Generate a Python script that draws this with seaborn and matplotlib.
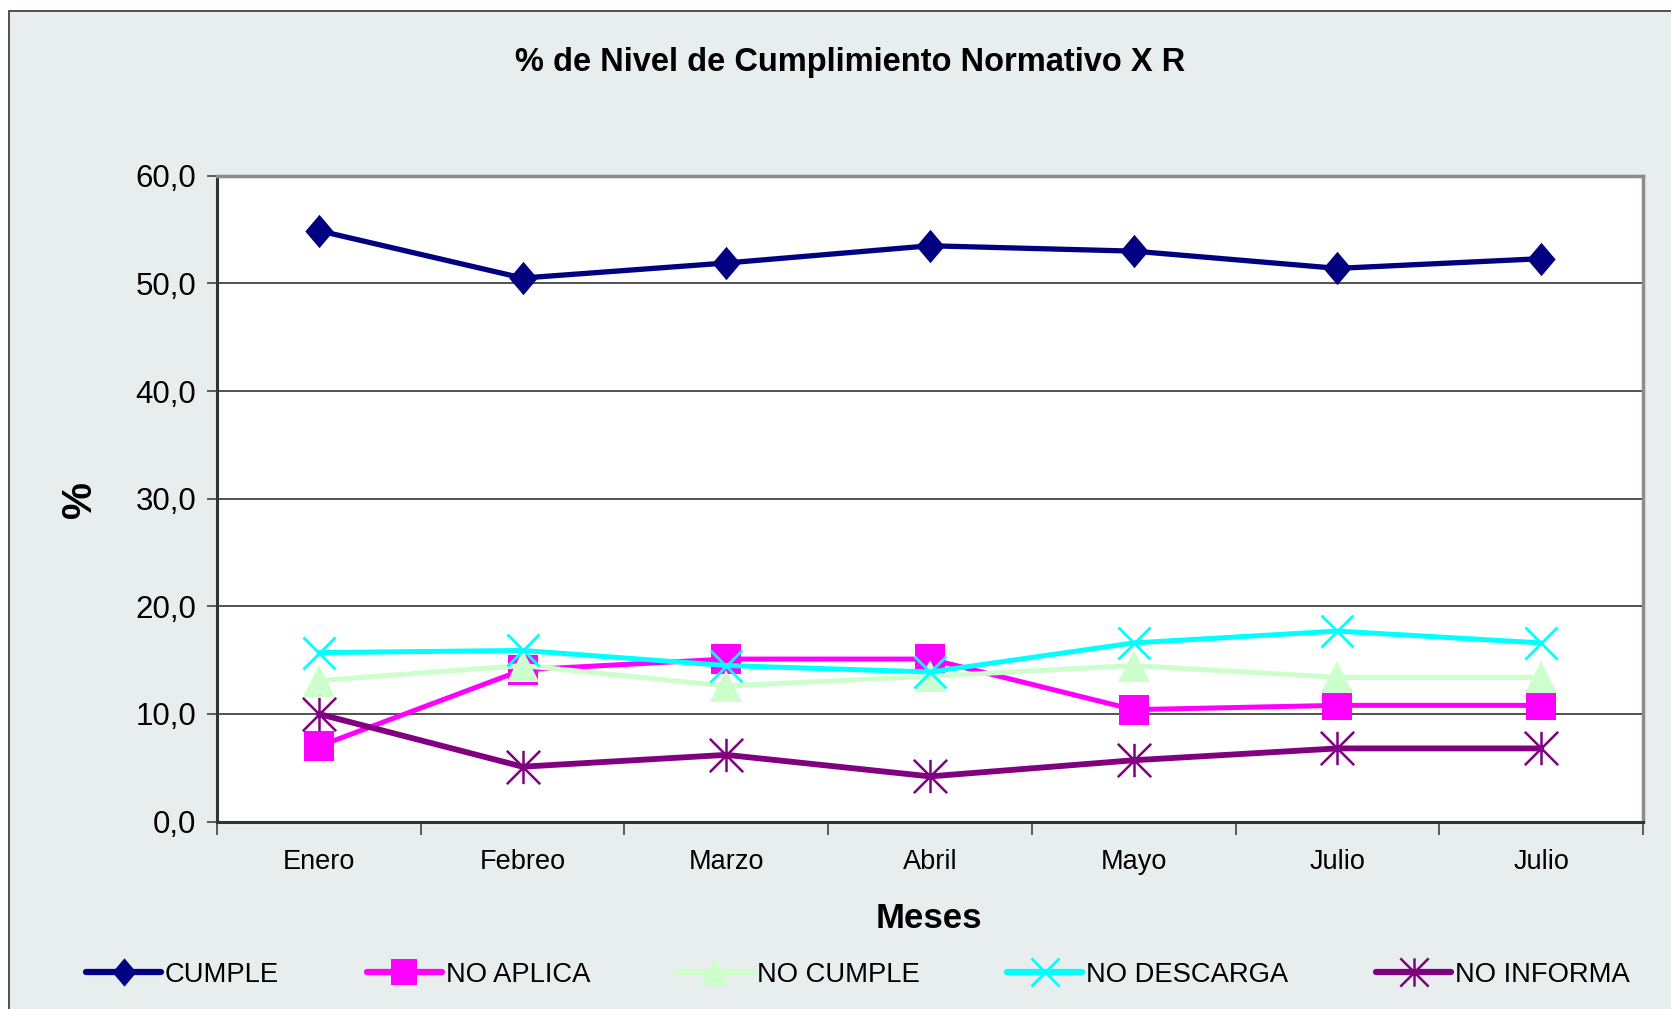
import numpy as np
import pandas as pd
import seaborn as sns
import matplotlib.pyplot as plt
from matplotlib.path import Path
from matplotlib.patches import Rectangle
from matplotlib.ticker import FixedLocator, FuncFormatter

# Datos
meses = ["Enero", "Febreo", "Marzo", "Abril", "Mayo", "Julio", "Julio"]
cumple = [54.9, 50.5, 51.9, 53.5, 53.0, 51.4, 52.3]
no_aplica = [7.0, 14.1, 15.1, 15.1, 10.4, 10.8, 10.8]
no_cumple = [13.1, 14.5, 12.6, 13.5, 14.5, 13.4, 13.4]
no_descarga = [15.7, 15.9, 14.5, 13.9, 16.6, 17.7, 16.6]
no_informa = [10.0, 5.1, 6.2, 4.2, 5.7, 6.8, 6.8]

series_nombres = ["CUMPLE", "NO APLICA", "NO CUMPLE", "NO DESCARGA", "NO INFORMA"]
y_ticks = [0, 10, 20, 30, 40, 50, 60]

sns.set_style("white")
plt.rcParams['font.family'] = ['Liberation Sans', 'DejaVu Sans']
plt.rcParams['text.color'] = 'black'
plt.rcParams['xtick.color'] = 'black'
plt.rcParams['ytick.color'] = 'black'

# asterisco tipo Excel: vertical + X
asterisco = Path(
    [(0, -1), (0, 1), (-1, -1), (1, 1), (-1, 1), (1, -1)],
    [Path.MOVETO, Path.LINETO, Path.MOVETO, Path.LINETO, Path.MOVETO, Path.LINETO]
)
# rombo algo mas alto que ancho
rombo = Path([(0, 1), (0.85, 0), (0, -1), (-0.85, 0), (0, 1)],
             [Path.MOVETO, Path.LINETO, Path.LINETO, Path.LINETO, Path.CLOSEPOLY])

estilos = {
    "CUMPLE": dict(color="#000080", marker=rombo, ms=24, lw=3.8, mew=0),
    "NO APLICA": dict(color="#FF00FF", marker="s", ms=21.5, lw=3.6, mew=0),
    "NO CUMPLE": dict(color="#CCFFCC", marker="^", ms=23, lw=3.6, mew=0),
    "NO DESCARGA": dict(color="#00FFFF", marker="x", ms=23, lw=3.6, mew=2.0),
    "NO INFORMA": dict(color="#800080", marker=asterisco, ms=24, lw=4.2, mew=1.8),
}

valores = [cumple, no_aplica, no_cumple, no_descarga, no_informa]
df = pd.DataFrame({"pos": np.tile(np.arange(len(meses)), len(series_nombres)),
                   "valor": np.concatenate(valores),
                   "serie": np.repeat(series_nombres, len(meses))})

fig = plt.figure(figsize=(16.71, 10.09), dpi=100)
fig.patch.set_facecolor("white")
# marco gris claro del grafico
fig.patches.append(Rectangle((9 / 1671, -0.1), 1.2, 1 - 11 / 1009 + 0.1,
                             transform=fig.transFigure, facecolor="#E8EEEE",
                             edgecolor="#333333", lw=1.2, zorder=-5))

ax = fig.add_axes([217 / 1671, 1 - 821.6 / 1009, (1643 - 217) / 1671, (821.6 - 175.8) / 1009])
ax.set_zorder(2)
ax.set_facecolor("white")

for nombre in series_nombres:
    st = estilos[nombre]
    sub = df[df["serie"] == nombre]
    sns.lineplot(data=sub, x="pos", y="valor", ax=ax, color=st["color"], lw=st["lw"],
                 marker=st["marker"], markersize=st["ms"], markeredgewidth=st["mew"],
                 markeredgecolor=st["color"], markerfacecolor=st["color"],
                 label=nombre, legend=False, clip_on=False)

ax.set_xlim(-0.5, len(meses) - 0.5)
ax.set_ylim(0, 60)
ax.yaxis.set_major_locator(FixedLocator(y_ticks))
ax.yaxis.set_major_formatter(FuncFormatter(lambda v, p: f"{v:.1f}".replace(".", ",")))
ax.grid(axis="y", color="#222222", lw=1.1)
ax.set_axisbelow(True)

ax.set_xticks(np.arange(-0.5, len(meses), 1.0))
ax.set_xticklabels([])
ax.set_xticks(np.arange(len(meses)), minor=True)
ax.set_xticklabels(meses, minor=True, fontsize=19.5)
ax.tick_params(axis="x", which="major", direction="out", length=9, width=1.1, color="#333333", bottom=True)
ax.tick_params(axis="x", which="minor", length=0, pad=20)
ax.tick_params(axis="y", direction="out", length=7, width=1.1, color="#333333", left=True,
               labelsize=22.5, pad=8)

for lado in ["top", "right"]:
    ax.spines[lado].set_color("#8C8C8C")
    ax.spines[lado].set_linewidth(2.5)
for lado in ["left", "bottom"]:
    ax.spines[lado].set_color("#333333")
    ax.spines[lado].set_linewidth(2.2)

ax.set_xlabel("")
ax.set_ylabel("")
fig.text(850 / 1671, 1 - 62 / 1009, "% de Nivel de Cumplimiento Normativo X R",
         ha="center", va="center", fontsize=23.5, fontweight="bold")
fig.text(80 / 1671, 1 - 499 / 1009, "%", ha="center", va="center", rotation=90,
         fontsize=30, fontweight="bold")
fig.text(929 / 1671, 1 - 919 / 1009, "Meses", ha="center", va="center",
         fontsize=25, fontweight="bold")

handles, labels = ax.get_legend_handles_labels()
leg = fig.legend(handles, labels, loc="center left", bbox_to_anchor=(86 / 1671, 1 - 975 / 1009),
                 ncol=5, frameon=False, fontsize=19.7, markerscale=0.85, handlelength=2.75,
                 handletextpad=0.14, columnspacing=3.2, borderpad=0, borderaxespad=0)
for linea in leg.get_lines():
    linea.set_linewidth(4.5)

fig.savefig("out.png", dpi=100, facecolor=fig.get_facecolor())
